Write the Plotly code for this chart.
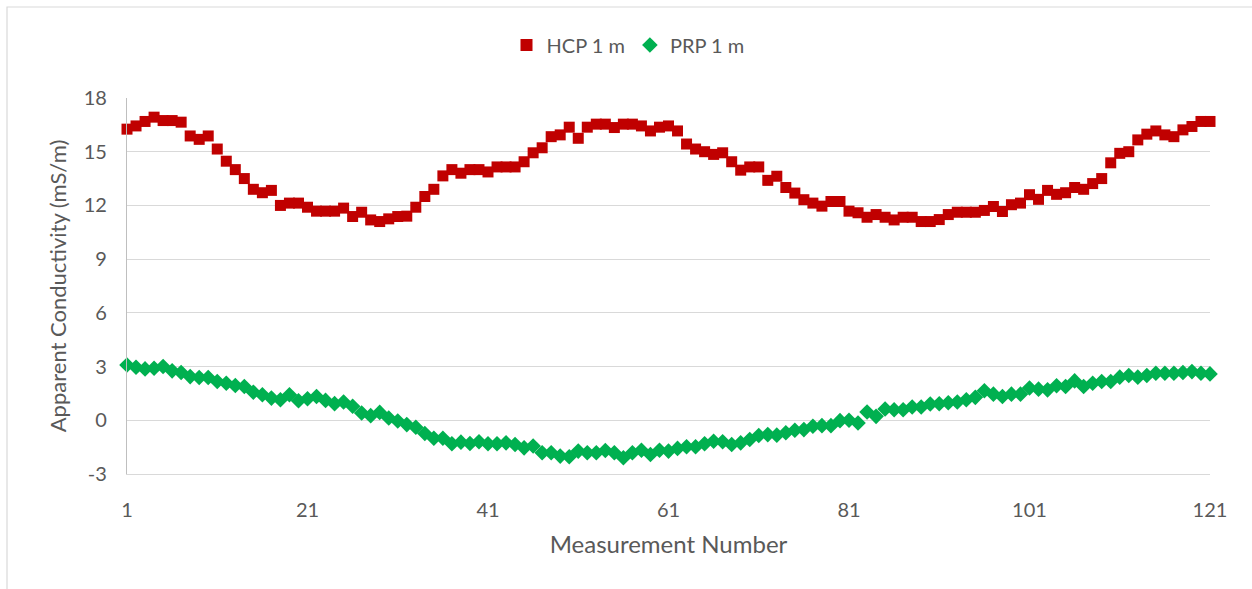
import plotly.graph_objects as go

measurement = list(range(1, 122))

hcp_1m = [
    16.26, 16.44, 16.69, 16.93, 16.74, 16.74, 16.65, 15.88, 15.69, 15.88,
    15.15, 14.47, 14.00, 13.50, 12.90, 12.71, 12.84, 12.00, 12.13, 12.13,
    11.90, 11.68, 11.68, 11.68, 11.85, 11.38, 11.62, 11.19, 11.10, 11.25,
    11.38, 11.40, 11.90, 12.50, 12.90, 13.65, 14.00, 13.80, 14.00, 14.00,
    13.87, 14.15, 14.15, 14.15, 14.44, 14.94, 15.22, 15.84, 15.94, 16.37,
    15.75, 16.37, 16.54, 16.54, 16.35, 16.54, 16.54, 16.44, 16.16, 16.37,
    16.44, 16.16, 15.43, 15.15, 15.00, 14.85, 14.94, 14.44, 13.97, 14.15,
    14.15, 13.40, 13.63, 13.00, 12.69, 12.32, 12.13, 11.96, 12.22, 12.22,
    11.68, 11.59, 11.34, 11.49, 11.34, 11.19, 11.34, 11.34, 11.10, 11.10,
    11.21, 11.49, 11.62, 11.62, 11.62, 11.72, 11.94, 11.66, 12.04, 12.13,
    12.60, 12.34, 12.84, 12.62, 12.71, 13.00, 12.90, 13.22, 13.50, 14.38,
    14.91, 15.00, 15.66, 15.98, 16.16, 15.94, 15.84, 16.22, 16.41, 16.69,
    16.69,
]

prp_1m = [
    3.09, 2.96, 2.87, 2.91, 3.00, 2.76, 2.67, 2.44, 2.39, 2.39,
    2.17, 2.07, 1.94, 1.89, 1.57, 1.43, 1.24, 1.15, 1.43, 1.09,
    1.20, 1.33, 1.11, 0.93, 1.02, 0.78, 0.41, 0.26, 0.44, 0.13,
    -0.04, -0.24, -0.39, -0.74, -1.00, -1.00, -1.31, -1.22, -1.30, -1.20,
    -1.31, -1.31, -1.26, -1.35, -1.54, -1.44, -1.81, -1.81, -2.00, -2.04,
    -1.72, -1.81, -1.81, -1.69, -1.81, -2.09, -1.81, -1.67, -1.91, -1.67,
    -1.72, -1.57, -1.48, -1.48, -1.31, -1.17, -1.20, -1.35, -1.26, -1.07,
    -0.85, -0.80, -0.83, -0.70, -0.56, -0.52, -0.33, -0.30, -0.30, -0.02,
    0.00, -0.15, 0.46, 0.22, 0.63, 0.59, 0.59, 0.74, 0.74, 0.91,
    0.92, 0.98, 1.02, 1.15, 1.28, 1.65, 1.46, 1.33, 1.46, 1.46,
    1.80, 1.74, 1.70, 1.93, 1.89, 2.20, 1.89, 2.07, 2.17, 2.17,
    2.41, 2.50, 2.41, 2.50, 2.63, 2.63, 2.63, 2.67, 2.72, 2.63,
    2.59,
]

x_ticks = [1, 21, 41, 61, 81, 101, 121]
y_ticks = [-3, 0, 3, 6, 9, 12, 15, 18]

FONT = "Lato, 'Open Sans', sans-serif"
TXT = "#595959"

fig = go.Figure()
fig.add_trace(go.Scatter(
    x=measurement, y=hcp_1m, mode="markers", name="HCP 1 m",
    marker=dict(symbol="square", size=11, color="#C00000"),
    cliponaxis=False,
))
fig.add_trace(go.Scatter(
    x=measurement, y=prp_1m, mode="markers", name="PRP 1 m",
    marker=dict(symbol="diamond", size=12, color="#00B050"),
    cliponaxis=False,
))

W, H = 1252, 589
L, R, T, B = 127, 42, 98, 115
pw, ph = W - L - R, H - T - B

fig.update_layout(
    width=W, height=H,
    margin=dict(l=L, r=R, t=T, b=B),
    paper_bgcolor="white", plot_bgcolor="white",
    font=dict(family=FONT, color=TXT, size=18),
    legend=dict(orientation="h", x=(628 - L) / pw, xanchor="center", y=1.0 + (98 - 45) / ph,
                yanchor="middle", font=dict(size=20, color=TXT),
                itemsizing="constant", traceorder="normal"),
    showlegend=True,
    shapes=[dict(type="rect", xref="paper", yref="paper",
                 x0=(7 - L) / pw, x1=(W + 10 - L) / pw,
                 y0=-(H + 10 - T - ph) / ph, y1=1 + (T - 7) / ph,
                 line=dict(color="#D9D9D9", width=1.2), fillcolor="rgba(0,0,0,0)",
                 layer="below")],
)
fig.update_xaxes(
    range=[1, 121], tickvals=x_ticks, ticktext=[str(v) for v in x_ticks],
    showgrid=False, zeroline=False, showline=True, linecolor="#D9D9D9", linewidth=1.3,
    ticks="", tickfont=dict(size=20, color=TXT), ticklabelstandoff=18,
    title=dict(text="Measurement Number", font=dict(size=24, color=TXT), standoff=16),
)
fig.update_yaxes(
    range=[-3, 18], tickvals=y_ticks, ticktext=[str(v) for v in y_ticks],
    showgrid=True, gridcolor="#D9D9D9", gridwidth=1.3,
    zeroline=False, showline=True, linecolor="#BFBFBF", linewidth=1.3,
    ticks="", tickfont=dict(size=20, color=TXT), ticklabelstandoff=15,
    title=dict(text="Apparent Conductivity (mS/m)", font=dict(size=22, color=TXT), standoff=10),
)

fig.write_html("out.html", config={"displayModeBar": False},
               post_script="document.body.style.margin='0';document.body.style.overflow='hidden';")
